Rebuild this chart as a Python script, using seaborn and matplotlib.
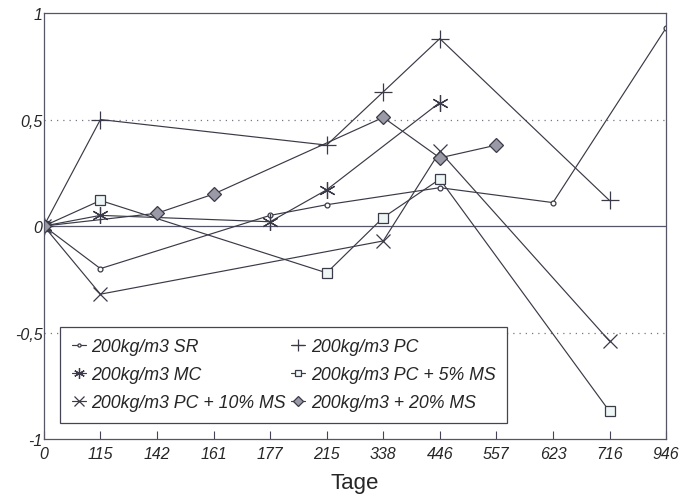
import numpy as np
import pandas as pd
import matplotlib
matplotlib.use("Agg")
import matplotlib.pyplot as plt
import seaborn as sns

# Tage (categorical, equally spaced on the x axis)
days = ["0", "115", "142", "161", "177", "215", "338", "446", "557", "623", "716", "946"]

# values per series, None = no measurement at that day
sr = [0, -0.20, None, None, 0.05, 0.10, None, 0.18, None, 0.11, None, 0.93]
pc = [0, 0.50, None, None, None, 0.38, 0.63, 0.88, None, None, 0.12, None]
mc = [0, 0.05, None, None, 0.02, 0.17, None, 0.58, None, None, None, None]
pc_ms5 = [0, 0.12, None, None, None, -0.22, 0.04, 0.22, None, None, -0.87, None]
pc_ms10 = [0, -0.32, None, None, None, None, -0.07, 0.35, None, None, -0.54, None]
ms20 = [0, None, 0.06, 0.15, None, None, 0.51, 0.32, 0.38, None, None, None]

yticks = [-1, -0.5, 0, 0.5, 1]
ytick_labels = ["-1", "-0,5", "0", "0,5", "1"]

labels = ["200kg/m3 SR", "200kg/m3 PC", "200kg/m3 MC",
          "200kg/m3 PC + 5% MS", "200kg/m3 PC + 10% MS", "200kg/m3 + 20% MS"]
series = [sr, pc, mc, pc_ms5, pc_ms10, ms20]

sns.set_theme(style="white")
plt.rcParams["font.family"] = ["Liberation Sans", "DejaVu Sans"]

fig = plt.figure(figsize=(6.96, 5.02), dpi=100)
ax = fig.add_axes([0.063, 0.1235, 0.894, 0.8485])

line_col = "#3a3a48"
styles = [
    dict(marker="o", markersize=3.5, markerfacecolor="white", markeredgecolor=line_col, markeredgewidth=0.9),
    dict(marker="+", markersize=13, markeredgecolor=line_col, markeredgewidth=0.9),
    dict(marker=(6, 2, 0), markersize=12, markeredgecolor=line_col, markeredgewidth=0.9),
    dict(marker="s", markersize=7.5, markerfacecolor="#eef6f6", markeredgecolor=line_col, markeredgewidth=0.9),
    dict(marker="x", markersize=10, markeredgecolor=line_col, markeredgewidth=0.9),
    dict(marker="D", markersize=7.5, markerfacecolor="#9a9aa6", markeredgecolor=line_col, markeredgewidth=0.9),
]

for lab, vals, st in zip(labels, series, styles):
    df = pd.DataFrame({"x": np.arange(len(days)), "y": vals}).dropna()
    sns.lineplot(data=df, x="x", y="y", ax=ax, color=line_col, linewidth=0.85,
                 sort=False, label=lab, **st)

# reference lines
ax.axhline(0, color="#55556a", linewidth=0.9, zorder=0)
for yv in (0.5, -0.5):
    ax.axhline(yv, color="#777788", linewidth=0.9, linestyle=(0, (1, 4)), zorder=0)

ax.set_xlim(0, len(days) - 1)
ax.set_ylim(-1, 1)
ax.set_xticks(np.arange(len(days)))
ax.set_xticklabels(days, fontstyle="italic", fontsize=11.5)
ax.set_yticks(yticks)
ax.set_yticklabels(ytick_labels, fontstyle="italic", fontsize=11.5)
ax.tick_params(axis="x", direction="in", length=6, width=0.8, color="#444455", pad=5, bottom=True)
ax.tick_params(axis="y", length=0, pad=1)
ax.set_xlabel("Tage", fontsize=16, labelpad=8)
ax.set_ylabel("")
for sp in ax.spines.values():
    sp.set_color("#555566")
    sp.set_linewidth(0.9)

h, l = ax.get_legend_handles_labels()
order = [0, 2, 4, 1, 3, 5]
leg = ax.legend([h[i] for i in order], [l[i] for i in order], ncol=2,
                loc="lower left", bbox_to_anchor=(0.026, 0.038), borderaxespad=0,
                frameon=True, fancybox=False, framealpha=1, edgecolor="#444455",
                handlelength=0.8, handletextpad=0.3, columnspacing=0.3,
                labelspacing=0.62, borderpad=0.65, markerscale=0.65,
                prop={"style": "italic", "size": 12.8})
leg.get_frame().set_linewidth(0.9)

fig.savefig("out.png", dpi=100)
